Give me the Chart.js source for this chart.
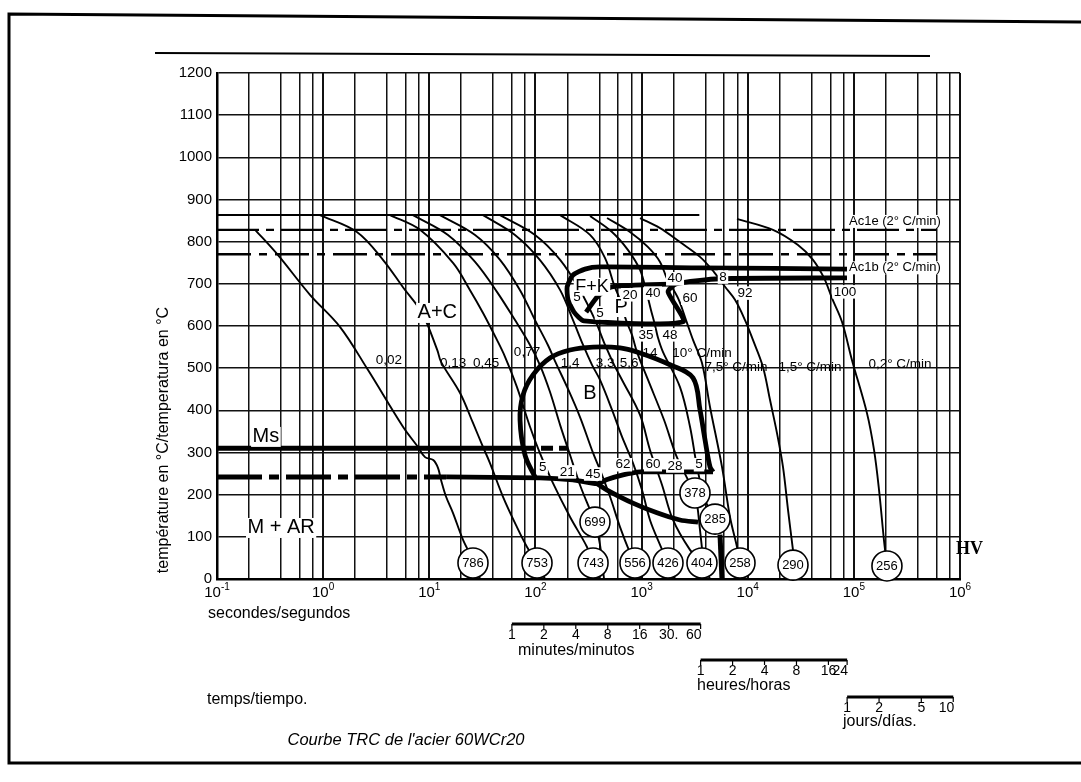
<!DOCTYPE html>
<html>
<head>
<meta charset="utf-8">
<script src="https://cdn.jsdelivr.net/npm/chart.js@4.4.1/dist/chart.umd.min.js"></script>
<style>
  html, body { margin: 0; padding: 0; background: #fff; }
  #chart { display: block; }
</style>
</head>
<body>
<canvas id="chart" width="1081" height="782"></canvas>
<script>
// --- axis ticks / grid ---
const gridTimes = [0.1, 0.2, 0.4, 0.6, 0.8, 1, 2, 4, 6, 8, 10, 20, 40, 60, 80, 100, 200, 400, 600, 800,
  1000, 2000, 4000, 6000, 8000, 10000, 20000, 40000, 60000, 80000, 100000, 200000, 400000, 600000, 800000, 1000000];
const decadeValues = [0.1, 1, 10, 100, 1000, 10000, 100000, 1000000];
const decadeExponents = ['-1', '0', '1', '2', '3', '4', '5', '6'];

// --- cooling curves (time in s, temperature in °C) ---
const c002Time = [0.229, 0.376, 0.752, 1.44, 2.64, 5.65, 7.83, 9.12, 10.9, 12.1, 12.9, 14.4, 16.7, 20.8, 25.8, 30.1];
const c002Temp = [828, 768, 674, 598, 496, 361, 313, 289, 282, 263, 235, 195, 157, 93, 45, 0];
const c013Time = [0.933, 2.08, 3.66, 5.65, 8.54, 11.9, 12.9, 19.5, 25.8, 32.1, 37.3, 49.5, 67.0, 83.3, 103.5, 123];
const c013Temp = [863, 823, 757, 692, 631, 543, 515, 441, 370, 313, 275, 195, 123, 76, 38, 0];
const c045Time = [4.27, 8.18, 16.8, 24.2, 32.1, 43.4, 51.7, 67.0, 88.9, 110, 146, 212, 306, 349, 406];
const c045Temp = [863, 828, 749, 685, 631, 567, 527, 455, 361, 299, 228, 147, 76, 38, 0];
const c077Time = [7.02, 15.0, 27.0, 43.4, 64.2, 88.9, 110, 137, 171, 212, 263, 327, 365, 406, 443];
const c077Temp = [863, 816, 752, 681, 614, 555, 508, 444, 365, 294, 223, 164, 135, 81, 0];
const c14Time = [12.6, 27.0, 46.4, 71.6, 99.1, 131, 156, 199, 263, 349, 406, 505, 627, 778, 867, 1010];
const c14Temp = [863, 816, 757, 685, 614, 555, 512, 455, 384, 299, 259, 195, 123, 62, 38, 0];
const c33Time = [32.1, 64.2, 110, 171, 226, 281, 341, 406, 527, 655, 830, 1010, 1200, 1493, 1777, 2067];
const c33Temp = [863, 816, 757, 685, 614, 555, 508, 472, 401, 337, 275, 211, 140, 81, 38, 0];
const c56Time = [46.4, 99.1, 171, 263, 365, 453, 551, 655, 967, 1200, 1559, 1978, 2860, 3709, 4413];
const c56Temp = [863, 816, 757, 685, 614, 555, 508, 472, 389, 306, 223, 140, 69, 38, 0];
const c140Time = [171, 327, 453, 551, 627, 714, 812, 906, 1151, 1629, 2112, 2739, 3189, 3553, 3962];
const c140Temp = [863, 816, 761, 697, 662, 614, 579, 538, 472, 377, 294, 235, 204, 116, 0];
const r10Time = [327, 527, 746, 967, 1101, 1226, 1338, 1428, 1593, 2302, 2860, 3329, 3962, 4921];
const r10Temp = [861, 823, 780, 733, 685, 638, 602, 572, 538, 455, 361, 266, 188, 142];
const r75Time = [473, 778, 1151, 1493, 1738, 2206, 2622, 3052, 3709, 4413, 5723, 6809, 7926, 8458, 8830];
const r75Temp = [856, 823, 787, 752, 712, 666, 614, 567, 512, 408, 266, 147, 76, 38, 0];
const r15Time = [967, 1493, 2302, 3553, 4815, 6113, 7592, 9431, 11200, 13920, 16210, 18870, 21490, 23970, 26690, 27890, 28490];
const r15Temp = [856, 832, 799, 764, 728, 693, 662, 614, 567, 503, 425, 346, 266, 164, 69, 33, 0];
const r02Time = [7926, 17300, 29760, 41210, 52340, 62200, 77260, 96050, 132700, 154900, 172700, 192000, 204900, 209400];
const r02Temp = [854, 828, 792, 757, 714, 666, 610, 519, 394, 306, 211, 93, 31, 0];

// --- transformation boundaries ---
const austTime = [0.1, 3500];
const austTemp = [863, 863];
const ac1eTime = [0.1, 600000];
const ac1eTemp = [828, 828];
const ac1bTime = [0.1, 600000];
const ac1bTemp = [770, 770];
const msTime = [0.1, 76.4];
const msTemp = [310, 310];
const msDashTime = [76.4, 200];
const msDashTemp = [310, 310];
const mfTime = [0.1, 14.4];
const mfTemp = [242, 242];
const bEndTime = [14.4, 110, 226, 381, 473, 669, 967, 1978, 4709];
const bEndTemp = [242, 240, 235, 226, 236, 247, 254, 254, 254];
const bLowTime = [381, 473, 830, 1397, 2302, 3403];
const bLowTemp = [226, 211, 180, 157, 140, 135];
const bDomeTime = [99.1, 79.8, 71.6, 76.4, 94.9, 137, 212, 349, 627, 967, 1854, 3052, 3553, 3962, 4413, 4709];
const bDomeTemp = [242, 294, 377, 436, 484, 524, 543, 550, 548, 536, 508, 477, 401, 330, 266, 254];
const bTailTime = [5482, 5723];
const bTailTemp = [105, 0];
const pOuterTime = [86140, 3553, 406, 293, 226, 199, 203, 231, 287, 2456, 1777, 2112, 5482, 86140];
const pOuterTemp = [735, 738, 740, 735, 721, 693, 662, 633, 612, 610, 681, 700, 712, 714];
const pInnerTime = [300, 389, 527, 2112];
const pInnerTemp = [633, 671, 693, 700];

// --- hardness HV ---
const hvValues = [786, 753, 743, 699, 556, 426, 404, 378, 285, 258, 290, 256];
const hvTime = [25.8, 103.5, 349, 364, 867, 1774, 3707, 3185, 4920, 8460, 26700, 205000];
const hvTemp = [38, 38, 38, 135, 38, 38, 38, 204, 142, 38, 33, 31];

// --- labels ---
const regionText = ['A+C', 'B', 'P', 'F+K', 'Ms', 'M + AR'];
const regionTime = [11.9, 327, 641, 341, 0.289, 0.402];
const regionTemp = [631, 441, 645, 693, 337, 121];
const rateText = ['0,02', '0,13', '0,45', '0,77', '1,4', '3,3', '5,6', '14', '10° C/min', '7,5° C/min', '1,5° C/min', '0,2° C/min'];
const rateTime = [4.17, 16.8, 34.3, 83.3, 212, 453, 762, 1200, 3709, 7755, 38620, 272000];
const rateTemp = [519, 512, 512, 538, 512, 512, 512, 536, 536, 503, 503, 510];
const pctText = ['5', '5', '20', '40', '40', '60', '8', '92', '100', '35', '48', '5', '21', '45', '62', '60', '28', '5'];
const pctTime = [247, 406, 778, 1281, 2067, 2860, 5849, 9431, 82510, 1101, 1854, 117, 199, 349, 669, 1281, 2067, 3478];
const pctTemp = [669, 631, 674, 678, 712, 666, 716, 678, 681, 579, 579, 266, 254, 249, 271, 271, 268, 271];
const acText = ['Ac1e (2° C/min)', 'Ac1b (2° C/min)'];
const acTime = [90000, 90000];
const acTemp = [848, 738];

// --- time scales under the axis ---
const minuteMarks = [1, 2, 4, 8, 16, 30, 60];
const minuteLabels = ['1', '2', '4', '8', '16', '30.', '60'];
const hourMarks = [1, 2, 4, 8, 16, 24];
const hourLabels = ['1', '2', '4', '8', '16', '24'];
const dayMarks = [1, 2, 5, 10];
const dayLabels = ['1', '2', '5', '10'];

const FONT = '"Liberation Sans", Arial, sans-serif';
const pts = (ts, Ts) => ts.map((t, i) => ({ x: t, y: Ts[i] }));

function line(ts, Ts, width, dash, tension) {
  return {
    data: pts(ts, Ts),
    borderColor: '#000',
    borderWidth: width,
    borderDash: dash || [],
    pointRadius: 0,
    tension: tension === undefined ? 0.35 : tension,
    fill: false
  };
}

const datasets = [
  {
    data: pts(hvTime, hvTemp),
    showLine: false,
    pointRadius: 15,
    pointBackgroundColor: '#fff',
    pointBorderColor: '#000',
    pointBorderWidth: 1.6,
    clip: false
  },
  line(c002Time, c002Temp, 1.9),
  line(c013Time, c013Temp, 1.9),
  line(c045Time, c045Temp, 1.9),
  line(c077Time, c077Temp, 1.9),
  line(c14Time, c14Temp, 1.9),
  line(c33Time, c33Temp, 1.9),
  line(c56Time, c56Temp, 1.9),
  line(c140Time, c140Temp, 1.9),
  line(r10Time, r10Temp, 1.9),
  line(r75Time, r75Temp, 1.9),
  line(r15Time, r15Temp, 1.9),
  line(r02Time, r02Temp, 1.9),
  line(austTime, austTemp, 2, [], 0),
  line(ac1eTime, ac1eTemp, 2.4, [42, 7, 8, 7], 0),
  line(ac1bTime, ac1bTemp, 2.4, [34, 8, 8, 8], 0),
  line(msTime, msTemp, 5, [], 0),
  line(msDashTime, msDashTemp, 5, [12, 6], 0),
  line(mfTime, mfTemp, 5, [45, 7, 10, 7], 0),
  line(bEndTime, bEndTemp, 4.8, [], 0.2),
  line(bLowTime, bLowTemp, 4.8, [], 0.3),
  line(bDomeTime, bDomeTemp, 4.8, [], 0.35),
  line(bTailTime, bTailTemp, 5, [], 0),
  line(pOuterTime, pOuterTemp, 4.8, [], 0.2),
  line(pInnerTime, pInnerTemp, 4.8, [], 0.2)
];

function drawText(c, text, x, y, font, align, bg) {
  c.font = font;
  c.textAlign = align;
  c.textBaseline = 'middle';
  if (bg) {
    const w = c.measureText(text).width;
    const h = parseFloat(font.match(/(\d+(\.\d+)?)px/)[1]);
    const left = align === 'left' ? x : x - w / 2;
    c.fillStyle = '#fff';
    c.fillRect(left - 1.5, y - h / 2, w + 3, h);
  }
  c.fillStyle = '#000';
  c.fillText(text, x, y);
}

function drawBar(c, xs, marks, unit, labels, y) {
  const x0 = xs.getPixelForValue(marks[0] * unit);
  const x1 = xs.getPixelForValue(marks[marks.length - 1] * unit);
  c.strokeStyle = '#000';
  c.lineWidth = 3;
  c.beginPath(); c.moveTo(x0, y); c.lineTo(x1, y); c.stroke();
  c.lineWidth = 1.2;
  marks.forEach((m, i) => {
    const x = xs.getPixelForValue(m * unit);
    c.beginPath(); c.moveTo(x, y); c.lineTo(x, y + 5); c.stroke();
    const last = i === marks.length - 1;
    drawText(c, labels[i], last ? x + 1 : x, y + 11, '14px ' + FONT, last ? 'right' : 'center', false);
  });
}

const decor = {
  id: 'decor',
  beforeDraw(chart) {
    const c = chart.ctx;
    c.save();
    c.fillStyle = '#fff';
    c.fillRect(0, 0, chart.width, chart.height);
    c.restore();
  },
  afterDatasetsDraw(chart) {
    const c = chart.ctx;
    const xs = chart.scales.x, ys = chart.scales.y;
    c.save();
    hvValues.forEach((v, i) => {
      drawText(c, String(v), xs.getPixelForValue(hvTime[i]), ys.getPixelForValue(hvTemp[i]), '13px ' + FONT, 'center', false);
    });
    regionText.forEach((t, i) => {
      const size = (t === 'F+K') ? 18 : 20;
      drawText(c, t, xs.getPixelForValue(regionTime[i]), ys.getPixelForValue(regionTemp[i]), size + 'px ' + FONT, 'center', true);
    });
    rateText.forEach((t, i) => {
      drawText(c, t, xs.getPixelForValue(rateTime[i]), ys.getPixelForValue(rateTemp[i]), '13.5px ' + FONT, 'center', false);
    });
    pctText.forEach((t, i) => {
      drawText(c, t, xs.getPixelForValue(pctTime[i]), ys.getPixelForValue(pctTemp[i]), '13.5px ' + FONT, 'center', true);
    });
    acText.forEach((t, i) => {
      drawText(c, t, xs.getPixelForValue(acTime[i]), ys.getPixelForValue(acTemp[i]), '13px ' + FONT, 'left', true);
    });
    drawText(c, 'HV', chart.chartArea.right - 4, ys.getPixelForValue(70), 'bold 18px "Liberation Serif", serif', 'left', false);
    c.restore();
  },
  afterDraw(chart) {
    const c = chart.ctx;
    const xs = chart.scales.x;
    const area = chart.chartArea;
    c.save();
    c.strokeStyle = '#000';
    // page frame
    c.lineWidth = 3;
    c.beginPath();
    c.moveTo(1081, 22); c.lineTo(9, 14); c.lineTo(9, 763); c.lineTo(1081, 763);
    c.stroke();
    // rule above the chart
    c.lineWidth = 2;
    c.beginPath(); c.moveTo(155, 53); c.lineTo(930, 56); c.stroke();

    // decade labels 10^n
    decadeValues.forEach((v, i) => {
      const x = xs.getPixelForValue(v);
      c.font = '15px ' + FONT;
      const wBase = c.measureText('10').width;
      c.font = '10px ' + FONT;
      const wExp = c.measureText(decadeExponents[i]).width;
      const start = x - (wBase + wExp) / 2;
      c.fillStyle = '#000';
      c.textAlign = 'left';
      c.textBaseline = 'middle';
      c.font = '15px ' + FONT;
      c.fillText('10', start, area.bottom + 14);
      c.font = '10px ' + FONT;
      c.fillText(decadeExponents[i], start + wBase, area.bottom + 8);
    });

    // y axis title
    c.save();
    c.translate(164, 440);
    c.rotate(-Math.PI / 2);
    drawText(c, 'température en °C/temperatura en °C', 0, 0, '16px ' + FONT, 'center', false);
    c.restore();

    // time scales
    drawBar(c, xs, minuteMarks, 60, minuteLabels, 624);
    drawBar(c, xs, hourMarks, 3600, hourLabels, 660);
    drawBar(c, xs, dayMarks, 86400, dayLabels, 697);

    drawText(c, 'secondes/segundos', 208, 614, '16px ' + FONT, 'left', false);
    drawText(c, 'minutes/minutos', 518, 651, '16px ' + FONT, 'left', false);
    drawText(c, 'heures/horas', 697, 686, '16px ' + FONT, 'left', false);
    drawText(c, 'jours/días.', 843, 722, '16px ' + FONT, 'left', false);
    drawText(c, 'temps/tiempo.', 207, 700, '16px ' + FONT, 'left', false);
    drawText(c, "Courbe TRC de l'acier 60WCr20", 406, 740, 'italic 16.5px ' + FONT, 'center', false);
    c.restore();
  }
};

new Chart(document.getElementById('chart'), {
  type: 'line',
  data: { datasets: datasets },
  options: {
    responsive: false,
    animation: false,
    events: [],
    devicePixelRatio: 1,
    layout: { padding: { left: 150, right: 121, top: 73, bottom: 173 } },
    plugins: { legend: { display: false }, tooltip: { enabled: false } },
    scales: {
      x: {
        type: 'logarithmic',
        min: 0.1,
        max: 1000000,
        afterBuildTicks: s => { s.ticks = gridTimes.map(v => ({ value: v })); },
        afterFit: s => { s.height = 30; },
        ticks: { display: false },
        grid: {
          color: '#111',
          lineWidth: ctx => (decadeValues.includes(ctx.tick && ctx.tick.value) ? 2 : 1.5),
          drawTicks: false
        },
        border: { color: '#000', width: 2.5 }
      },
      y: {
        min: 0,
        max: 1200,
        afterFit: s => { s.width = 67; },
        ticks: {
          stepSize: 100,
          padding: 5,
          color: '#000',
          font: { size: 15, family: FONT },
          callback: v => String(v)
        },
        grid: { color: '#111', lineWidth: 1.5, drawTicks: false },
        border: { color: '#000', width: 2.5 }
      }
    }
  },
  plugins: [decor]
});
</script>
</body>
</html>
